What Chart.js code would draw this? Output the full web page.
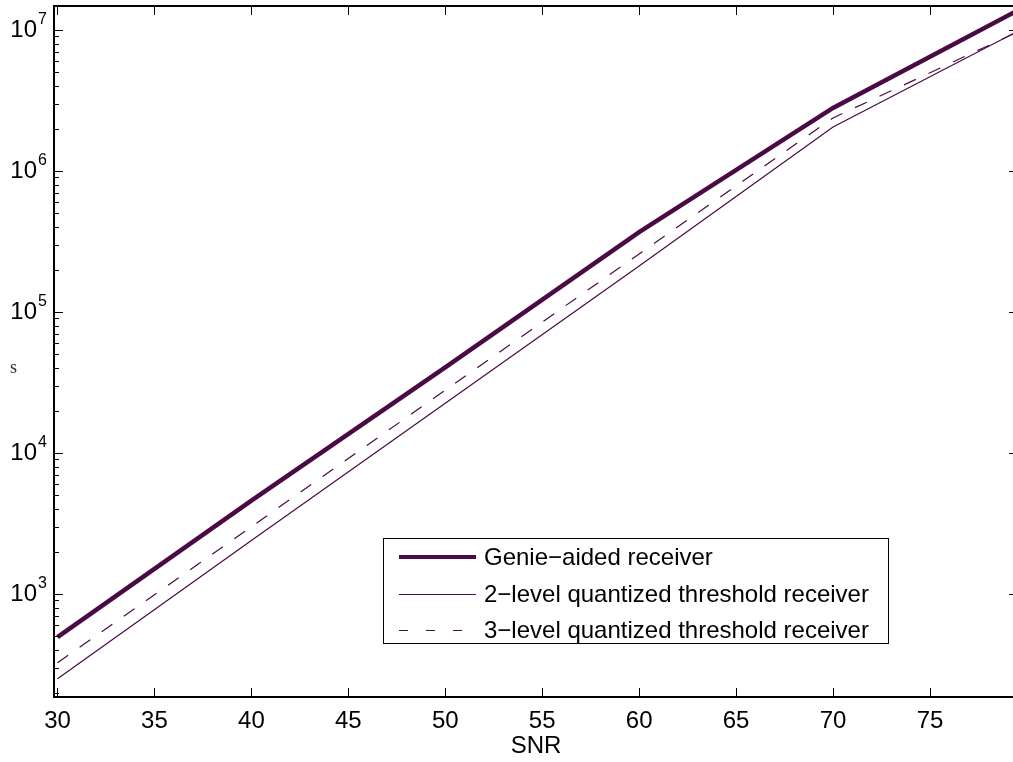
<!DOCTYPE html>
<html><head><meta charset="utf-8">
<script src="https://cdn.jsdelivr.net/npm/chart.js@4.4.1/dist/chart.umd.min.js"></script>
<style>
html,body{margin:0;padding:0;overflow:hidden;background:#fff;width:1013px;height:762px}
canvas{display:block}
</style></head>
<body>
<canvas id="c" width="1020" height="762" style="width:1020px;height:762px"></canvas>
<script>
// ---- data ----
const snr = [30, 40, 50, 60, 70, 80];
const genie = [495, 4600, 40500, 369000, 2.8e6, 1.49e7];
const twoLevel = [251, 2400, 22500, 212000, 2.05e6, 1.06e7];
const threeLevel = [326, 3000, 27900, 258000, 2.38e6, 1.04e7];
const seriesLabels = ['Genie\u2212aided receiver', '2\u2212level quantized threshold receiver', '3\u2212level quantized threshold receiver'];
const xTicks = [30, 35, 40, 45, 50, 55, 60, 65, 70, 75];
const yTicks = [1e3, 1e4, 1e5, 1e6, 1e7];
const xTitle = 'SNR';
const yTitleFragment = 's';

const FONT = "'Liberation Sans', Arial, Helvetica, sans-serif";
const COLOR = '#4a0a45';

const toPts = (ys) => snr.map((x, i) => ({x, y: ys[i]}));

const decor = {
  id: 'decor',
  afterDraw(chart) {
    const {ctx, chartArea: ca, scales: {x, y}} = chart;
    ctx.save();
    ctx.strokeStyle = '#000';
    ctx.lineWidth = 2;
    // top border
    ctx.beginPath(); ctx.moveTo(ca.left, ca.top); ctx.lineTo(ca.right, ca.top); ctx.stroke();
    ctx.lineWidth = 1;
    // x ticks (inward, bottom + top)
    xTicks.forEach(v => {
      const px = Math.round(x.getPixelForValue(v)) + 0.5;
      ctx.beginPath();
      ctx.moveTo(px, ca.bottom); ctx.lineTo(px, ca.bottom - 9);
      ctx.moveTo(px, ca.top); ctx.lineTo(px, ca.top + 9);
      ctx.stroke();
    });
    // y ticks major + minor (inward, left + right)
    const lo = Math.floor(Math.log10(y.min)), hi = Math.ceil(Math.log10(y.max));
    for (let e = lo; e <= hi; e++) {
      for (let m = 1; m <= 9; m++) {
        const v = m * Math.pow(10, e);
        if (v < y.min || v > y.max) continue;
        const py = Math.round(y.getPixelForValue(v)) + 0.5;
        const len = m === 1 ? 9 : 5;
        ctx.beginPath();
        ctx.moveTo(ca.left, py); ctx.lineTo(ca.left + len, py);
        ctx.moveTo(ca.right, py); ctx.lineTo(ca.right - len, py);
        ctx.stroke();
      }
    }
    // exponents of y tick labels
    ctx.fillStyle = '#000';
    ctx.font = '16px ' + FONT;
    ctx.textAlign = 'left';
    ctx.textBaseline = 'alphabetic';
    yTicks.forEach(v => {
      const py = y.getPixelForValue(v);
      ctx.fillText(String(Math.round(Math.log10(v))), 38, py - 6);
    });
    // clipped fragment of y-axis title
    ctx.fillStyle = '#333';
    ctx.font = "18px 'Liberation Serif', serif";
    ctx.fillText(yTitleFragment, 10, 373);
    // legend
    const bx = 383.5, by = 538.5, bw = 505, bh = 105;
    ctx.fillStyle = '#fff';
    ctx.fillRect(bx, by, bw, bh);
    ctx.strokeStyle = '#000';
    ctx.lineWidth = 1;
    ctx.strokeRect(bx, by, bw, bh);
    const rows = [557, 594, 630];
    chart.data.datasets.forEach((ds, i) => {
      ctx.save();
      ctx.strokeStyle = ds.borderColor;
      const thin = ds.borderWidth < 2;
      ctx.lineWidth = thin ? 1 : 4;
      ctx.setLineDash(ds.borderDash ? [9, 18] : []);
      const ly = thin ? rows[i] + 0.5 : rows[i];
      ctx.beginPath(); ctx.moveTo(399, ly); ctx.lineTo(476, ly); ctx.stroke();
      ctx.restore();
      ctx.fillStyle = '#000';
      ctx.font = '24px ' + FONT;
      ctx.textBaseline = 'middle';
      ctx.textAlign = 'left';
      ctx.fillText(ds.label, 484, rows[i] + 1);
    });
    ctx.restore();
  }
};

new Chart(document.getElementById('c'), {
  type: 'line',
  data: {
    datasets: [
      {label: seriesLabels[0], data: toPts(genie), borderColor: COLOR, borderWidth: 4.5, pointRadius: 0, tension: 0},
      {label: seriesLabels[1], data: toPts(twoLevel), borderColor: COLOR, borderWidth: 1.2, pointRadius: 0, tension: 0},
      {label: seriesLabels[2], data: toPts(threeLevel), borderColor: COLOR, borderWidth: 1.2, borderDash: [13, 14], pointRadius: 0, tension: 0}
    ]
  },
  options: {
    responsive: false,
    animation: false,
    devicePixelRatio: 1,
    layout: {padding: {left: 0, top: 6, right: 2, bottom: 0}},
    plugins: {legend: {display: false}, tooltip: {enabled: false}},
    scales: {
      x: {
        type: 'linear', min: 29.82, max: 79.54,
        grid: {display: false, drawTicks: false},
        border: {display: true, color: '#000', width: 2},
        afterBuildTicks: s => { s.ticks = xTicks.map(v => ({value: v})); },
        afterFit: s => { s.height = 65; s.paddingLeft = 0; s.paddingRight = 0; s.paddingTop = 0; s.paddingBottom = 0; },
        ticks: {color: '#000', font: {family: FONT, size: 24}, padding: 10, maxRotation: 0, autoSkip: false},
        title: {display: true, text: xTitle, color: '#000', font: {family: FONT, size: 24}, padding: {top: 0, bottom: 1}}
      },
      y: {
        type: 'logarithmic', min: 186, max: 1.48e7,
        grid: {display: false, drawTicks: false},
        border: {display: true, color: '#000', width: 2},
        afterBuildTicks: s => { s.ticks = yTicks.map(v => ({value: v})); },
        afterFit: s => { s.width = 54; s.paddingTop = 0; s.paddingBottom = 0; s.paddingLeft = 0; s.paddingRight = 0; },
        ticks: {color: '#000', font: {family: FONT, size: 24}, padding: 17, callback: () => '10', autoSkip: false}
      }
    }
  },
  plugins: [decor]
});
</script>
</body></html>
